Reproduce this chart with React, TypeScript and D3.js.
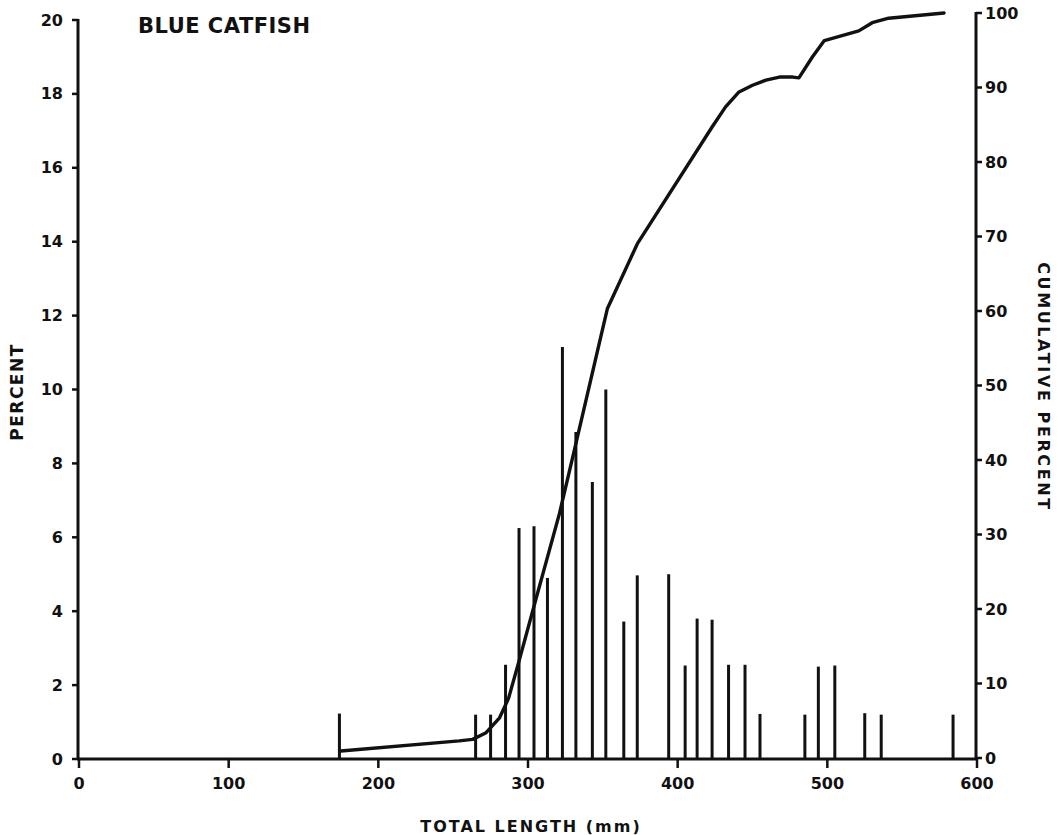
import React from "react";
import * as d3 from "d3";

const W = 1058;
const H = 835;

// Length-frequency bars (total length mm, percent)
const barLengths = [174, 265, 275, 285, 294, 304, 313, 323, 332, 343, 352, 364, 373, 394, 405, 413, 423, 434, 445, 455, 485, 494, 505, 525, 536, 584];
const barPercents = [1.23, 1.2, 1.2, 2.55, 6.25, 6.3, 4.9, 11.15, 8.85, 7.5, 10.0, 3.72, 4.97, 5.0, 2.53, 3.8, 3.77, 2.55, 2.55, 1.22, 1.2, 2.5, 2.53, 1.24, 1.2, 1.2];

// Cumulative percent curve (total length mm, cumulative percent)
const cumLengths = [175, 254, 263, 272, 281, 287, 294, 305, 321, 332, 345, 353, 373, 423, 432, 441, 450, 459, 468, 477, 481, 490, 498, 521, 530, 541, 578];
const cumPercents = [0.94, 2.3, 2.5, 3.4, 5.4, 8.0, 13.0, 21.1, 32.8, 42.2, 53.4, 60.3, 69.0, 84.7, 87.4, 89.4, 90.3, 91.0, 91.4, 91.4, 91.3, 94.1, 96.3, 97.6, 98.7, 99.3, 100.0];

const xTicks = [0, 100, 200, 300, 400, 500, 600];
const yLeftTicks = [0, 2, 4, 6, 8, 10, 12, 14, 16, 18, 20];
const yRightTicks = [0, 10, 20, 30, 40, 50, 60, 70, 80, 90, 100];

const FONT = "'DejaVu Sans', 'Liberation Sans', Arial, sans-serif";

export default function App() {
  const x = d3.scaleLinear().domain([0, 600]).range([79, 977]);
  const yL = d3.scaleLinear().domain([0, 20]).range([759, 20]);
  const yR = d3.scaleLinear().domain([0, 100]).range([758, 13]);

  const cumData = cumLengths.map((l, i) => [l, cumPercents[i]] as [number, number]);
  const line = d3
    .line<[number, number]>()
    .x((d) => x(d[0]))
    .y((d) => yR(d[1]))
    .curve(d3.curveLinear);

  const ink = "#111";

  return (
    <svg
      width={W}
      height={H}
      style={{ position: "absolute", left: 0, top: 0, background: "#fff" }}
      fontFamily={FONT}
    >
      <rect x={0} y={0} width={W} height={H} fill="#fff" />

      {/* bars */}
      {barLengths.map((l, i) => (
        <line
          key={"b" + i}
          x1={x(l)}
          x2={x(l)}
          y1={yL(0)}
          y2={yL(barPercents[i])}
          stroke={ink}
          strokeWidth={3}
        />
      ))}

      {/* cumulative line */}
      <path
        d={line(cumData) || ""}
        fill="none"
        stroke={ink}
        strokeWidth={3.4}
        strokeLinejoin="round"
        strokeLinecap="round"
      />

      {/* left axis */}
      <line x1={x(0) - 1} x2={x(0) - 1} y1={yL(20) - 1} y2={yL(0) + 1} stroke={ink} strokeWidth={3} />
      {yLeftTicks.map((t) => (
        <g key={"yl" + t}>
          <line x1={x(0) - 7} x2={x(0) - 1} y1={yL(t)} y2={yL(t)} stroke={ink} strokeWidth={2.5} />
          <text
            x={x(0) - 16}
            y={yL(t)}
            textAnchor="end"
            dominantBaseline="central"
            fontSize={16}
            fontWeight="bold"
            fill={ink}
          >
            {t}
          </text>
        </g>
      ))}

      {/* bottom axis */}
      <line x1={x(0) - 2} x2={x(600) + 1} y1={yL(0)} y2={yL(0)} stroke={ink} strokeWidth={3} />
      {xTicks.map((t) => (
        <g key={"x" + t}>
          <line x1={x(t)} x2={x(t)} y1={yL(0)} y2={yL(0) + 9} stroke={ink} strokeWidth={2.5} />
          <text
            x={x(t)}
            y={yL(0) + 24}
            textAnchor="middle"
            dominantBaseline="central"
            fontSize={16}
            fontWeight="bold"
            fill={ink}
          >
            {t}
          </text>
        </g>
      ))}

      {/* right axis */}
      <line x1={x(600) - 1} x2={x(600) - 1} y1={yR(100) - 1} y2={yL(0) + 1} stroke={ink} strokeWidth={3} />
      {yRightTicks.map((t) => (
        <g key={"yr" + t}>
          <line x1={x(600) - 1} x2={x(600) + 5} y1={yR(t)} y2={yR(t)} stroke={ink} strokeWidth={2.5} />
          <text
            x={x(600) + 8}
            y={yR(t)}
            textAnchor="start"
            dominantBaseline="central"
            fontSize={16}
            fontWeight="bold"
            fill={ink}
          >
            {t}
          </text>
        </g>
      ))}

      {/* title */}
      <text x={138} y={33} fontSize={21} fontWeight="bold" letterSpacing={0.5} fill={ink}>
        BLUE CATFISH
      </text>

      {/* axis titles */}
      <text
        x={531}
        y={832}
        textAnchor="middle"
        fontSize={16}
        fontWeight="bold"
        letterSpacing={2}
        fill={ink}
      >
        TOTAL LENGTH (mm)
      </text>
      <text
        transform="translate(23,392) rotate(-90)"
        textAnchor="middle"
        fontSize={17}
        fontWeight="bold"
        letterSpacing={1.5}
        fill={ink}
      >
        PERCENT
      </text>
      <text
        transform="translate(1038,387) rotate(90)"
        textAnchor="middle"
        fontSize={16}
        fontWeight="bold"
        letterSpacing={2.6}
        fill={ink}
      >
        CUMULATIVE PERCENT
      </text>
    </svg>
  );
}
